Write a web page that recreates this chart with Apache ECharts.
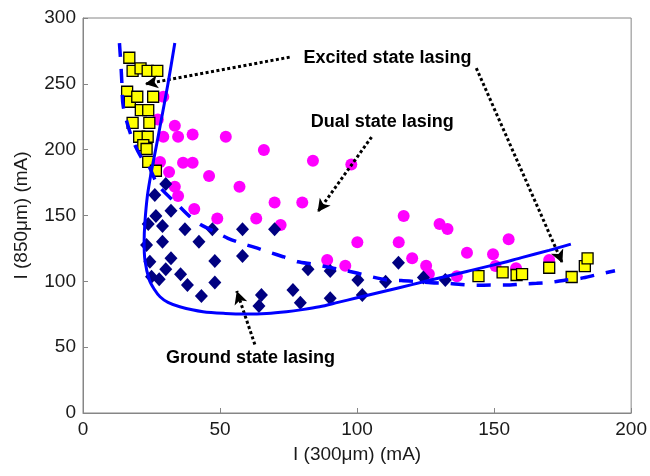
<!DOCTYPE html>
<html><head><meta charset="utf-8">
<script src="https://cdn.jsdelivr.net/npm/echarts@6/dist/echarts.min.js"></script>
<style>html,body{margin:0;padding:0;background:#fff}#c{width:650px;height:476px}</style>
</head><body><div id="c"></div>
<script>
// Excited state lasing (yellow squares)
const excitedState = [
  [16.9,269.8],[18.1,259.9],[21.0,261.7],[23.6,259.9],[27.1,259.9],
  [16.1,244.0],[17.1,236.4],[19.8,240.2],[25.6,240.2],[21.1,230.1],[23.8,230.1],
  [18.1,220.4],[24.2,220.4],[20.5,209.8],[23.6,209.8],[22.0,203.5],[23.2,200.5],
  [23.8,190.8],[26.6,184.0],
  [144.3,104.0],[153.1,106.8],[158.2,104.8],[160.2,105.5],[170.1,110.3],
  [178.3,103.3],[183.1,111.6],[184.1,117.5]
];
// Dual state lasing (magenta circles)
const dualState = [
  [29.3,240.2],[27.3,223.0],[33.5,218.1],[29.3,209.8],[34.7,209.8],[40.0,211.5],
  [52.1,209.8],[66.0,199.7],[83.9,191.6],[97.9,188.8],[28.1,190.6],[36.5,190.1],
  [40.0,190.1],[31.4,183.0],[46.0,180.0],[57.1,171.8],[33.5,171.8],[34.7,164.8],
  [69.9,159.8],[80.0,159.8],[40.6,154.9],[49.0,147.8],[63.2,147.8],[72.1,142.7],
  [117.0,149.6],[130.1,143.5],[133.0,139.7],[100.1,129.6],[115.2,129.6],
  [89.1,116.2],[95.7,111.8],[120.1,117.5],[125.2,111.8],[126.2,105.5],
  [140.1,121.7],[149.6,120.5],[136.4,103.8],[155.3,131.9],[150.5,111.6],
  [158.0,109.9],[170.1,116.2]
];
// Ground state lasing (navy diamonds)
const groundState = [
  [30.2,173.9],[26.2,165.5],[26.6,149.6],[32.1,153.6],[23.8,143.5],[29.0,142.0],
  [37.2,139.5],[47.2,139.5],[58.2,139.5],[69.9,139.5],[23.2,127.6],[29.0,130.1],
  [42.3,130.1],[24.4,114.9],[32.1,117.5],[58.2,119.2],[48.1,115.4],[30.2,109.1],
  [25.0,103.5],[27.8,101.5],[35.6,105.3],[48.1,99.2],[38.1,97.2],[43.2,88.8],
  [65.1,89.6],[64.2,81.2],[76.6,93.4],[79.3,83.8],[82.1,109.1],[90.2,107.8],
  [100.3,101.0],[110.4,99.7],[115.1,114.1],[124.2,103.0],[132.2,101.0],
  [90.2,87.1],[101.9,89.6]
];
// Solid boundary curve
const solidBoundary = [
  [33.5,281],[31,250],[28.5,222],[26.5,200],[25,184],[23.5,165],[22.6,145],
  [22.3,130],[22.6,116],[24.2,101],[26,94],[28.1,88.3],[31,84],[35.3,80.7],
  [43.8,76.9],[52,75.6],[59.6,75.2],[67,75.6],[74.2,76.9],[80,78.5],[86.3,80.7],
  [93,84],[100,87.5],[110,92.5],[120,97.5],[130,102.5],[140,107.5],[150,112.5],
  [160,118],[170,123.5],[178,128.3]
];
// Dashed boundary curve
const dashedBoundary = [
  [13.3,281],[13.9,262],[14.2,250],[14.7,232.6],[17.7,209.8],[21.4,193.6],
  [23.8,188.3],[27.4,173.1],[35.3,156.6],[39.0,149.1],[43.2,142.7],[48.1,137.7],
  [52.9,132.7],[57.8,128.9],[62.7,125.8],[68.1,122.0],[73.0,118.7],[78.4,114.9],
  [83.9,113.1],[88.8,111.1],[94.8,108.6],[100.3,106.1],[105.2,103.5],[111.2,101.0],
  [116.1,100.6],[122.1,99.7],[127.0,98.9],[133.1,98.5],[138.0,97.6],[143.4,97.0],
  [148.9,97.2],[154.4,97.2],[159.8,97.9],[165.5,98.5],[170.7,99.2],[176.2,101.0],
  [181.7,102.3],[187.1,104.8],[194.1,108.0]
];
const annotationTexts = ['Excited state lasing','Dual state lasing','Ground state lasing'];
const annotationAt = [[111.1,269.5],[109.2,221],[61.1,41.5]];
const arrowFrom = [[75.4,270.3],[143.5,262],[105.3,209.6],[62.7,52]];
const arrowTo = [[22.6,249.8],[174.9,113.9],[85.6,152.6],[56.1,92.6]];
const xTicks = [0,50,100,150,200];
const yTicks = [0,50,100,150,200,250,300];
const xTitle = 'I (300μm) (mA)';
const yTitle = 'I (850μm) (mA)';

const FONT = "'Liberation Sans', Arial, sans-serif";
const axisCol = '#868686';
const chart = echarts.init(document.getElementById('c'), null, {renderer:'canvas'});
function axisCommon(ticks){
  return {
    type:'value', min:ticks[0], max:ticks[ticks.length-1], interval:ticks[1]-ticks[0],
    axisLine:{show:true, lineStyle:{color:axisCol, width:1}},
    axisTick:{show:true, inside:true, length:5, lineStyle:{color:axisCol}},
    splitLine:{show:false},
    axisLabel:{color:'#1a1a1a', fontSize:19, fontFamily:FONT, showMinLabel:true, showMaxLabel:true},
    nameLocation:'middle',
    nameTextStyle:{color:'#1a1a1a', fontSize:19, fontFamily:FONT}
  };
}
const xAxis = Object.assign(axisCommon(xTicks), {name:xTitle, nameGap:32});
xAxis.axisLabel.margin = 7;
const yAxis = Object.assign(axisCommon(yTicks), {name:yTitle, nameGap:52});
yAxis.axisLabel.margin = 7;

chart.setOption({
  animation:false,
  backgroundColor:'#fff',
  grid:{left:83, right:18, top:18, bottom:63, show:true, borderColor:axisCol, borderWidth:1, containLabel:false},
  xAxis:xAxis, yAxis:yAxis,
  series:[
    {type:'scatter', name:'Dual', data:dualState, symbol:'circle', symbolSize:12,
     itemStyle:{color:'#ff00ff', opacity:1}, z:2, silent:true},
    {type:'scatter', name:'Ground', data:groundState, symbol:'diamond', symbolSize:[13,14],
     itemStyle:{color:'#000080', opacity:1}, z:3, silent:true},
    {type:'scatter', name:'Excited', data:excitedState, symbol:'rect', symbolSize:11,
     itemStyle:{color:'#ffff00', borderColor:'#000', borderWidth:1.3, opacity:1}, z:4, silent:true},
    {type:'line', name:'solid', data:solidBoundary, smooth:0.3, showSymbol:false,
     lineStyle:{color:'#0000ff', width:3}, z:5, silent:true},
    {type:'line', name:'dashed', data:dashedBoundary, smooth:0.3, showSymbol:false,
     lineStyle:{color:'#0000ff', width:3.5, type:[14,12]}, z:5, silent:true},
    {type:'line', name:'arrows', data:[], z:6, silent:true,
     markLine:{silent:true, symbol:['none','arrow'], symbolSize:[10,13], animation:false,
       label:{show:false},
       lineStyle:{color:'#000', width:3, type:[3,2.5], opacity:1},
       emphasis:{disabled:true},
       data:arrowFrom.map((f,i)=>[{coord:f},{coord:arrowTo[i]}])}},
    {type:'scatter', name:'labels', z:7, silent:true, symbolSize:1,
     itemStyle:{color:'transparent', opacity:1},
     data:annotationAt.map((p,i)=>({value:p, name:annotationTexts[i]})),
     label:{show:true, position:'inside', formatter:p=>p.name, color:'#000', opacity:1,
       fontSize:18, fontWeight:'bold', fontFamily:FONT}}
  ]
});
</script></body></html>
